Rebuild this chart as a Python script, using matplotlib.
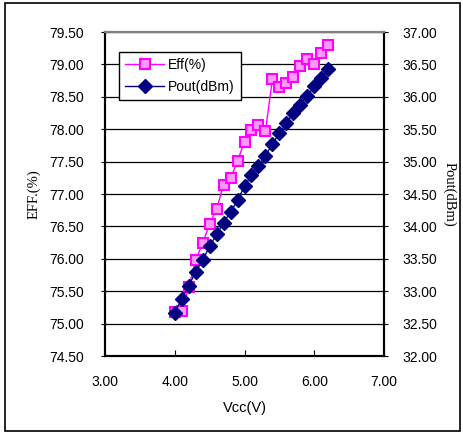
import matplotlib
matplotlib.use("Agg")
import matplotlib.pyplot as plt
from matplotlib.patches import Rectangle
from matplotlib.ticker import FormatStrFormatter, MultipleLocator

vcc = [4.0, 4.1, 4.2, 4.3, 4.4, 4.5, 4.6, 4.7, 4.8, 4.9, 5.0, 5.1,
       5.2, 5.3, 5.4, 5.5, 5.6, 5.7, 5.8, 5.9, 6.0, 6.1, 6.2]
eff = [75.18, 75.20, 75.56, 75.98, 76.24, 76.54, 76.77, 77.14, 77.24, 77.51,
       77.81, 77.99, 78.06, 77.97, 78.77, 78.65, 78.72, 78.80, 78.98, 79.08,
       79.01, 79.17, 79.30]
pout = [32.67, 32.88, 33.08, 33.30, 33.48, 33.69, 33.88, 34.06, 34.22, 34.40,
        34.62, 34.79, 34.93, 35.09, 35.27, 35.44, 35.60, 35.75, 35.88, 36.01,
        36.16, 36.29, 36.43]

W, H = 464, 433
fig = plt.figure(figsize=(W/100, H/100), dpi=100)
fig.patch.set_facecolor("white")
fig.patches.append(Rectangle((5/W, 2/H), 455/W, 428/H, transform=fig.transFigure,
                             fill=False, edgecolor="black", linewidth=1.2))

sans = "Liberation Sans"
serif = "Liberation Serif"

ax = fig.add_axes([105/W, 1-356/H, 279/W, 324/H])
ax2 = ax.twinx()

ax.set_xlim(3, 7)
ax.set_ylim(74.5, 79.5)
ax2.set_ylim(32, 37)
ax.xaxis.set_major_locator(MultipleLocator(1))
ax.yaxis.set_major_locator(MultipleLocator(0.5))
ax2.yaxis.set_major_locator(MultipleLocator(0.5))
ax.xaxis.set_major_formatter(FormatStrFormatter("%.2f"))
ax.yaxis.set_major_formatter(FormatStrFormatter("%.2f"))
ax2.yaxis.set_major_formatter(FormatStrFormatter("%.2f"))

ax.grid(axis="y", color="black", linewidth=0.9)
ax.set_axisbelow(True)

for a in (ax, ax2):
    for s in a.spines.values():
        s.set_linewidth(1.5)
    a.spines["top"].set_color("#808080")

ax.tick_params(axis="x", direction="in", length=4, pad=14, labelsize=10)
ax.tick_params(axis="y", direction="out", length=3, pad=12, labelsize=10)
ax2.tick_params(axis="y", direction="out", length=3, pad=10, labelsize=10)
for lab in ax.get_xticklabels() + ax.get_yticklabels() + ax2.get_yticklabels():
    lab.set_fontfamily(sans)

l1, = ax.plot(vcc, eff, color="#FF00FF", linewidth=1.0, marker="s", markersize=6.5,
              markerfacecolor="#FF99FF", markeredgecolor="#FF00FF", markeredgewidth=1.5,
              label="Eff(%)")
l2, = ax2.plot(vcc, pout, color="#000080", linewidth=1.0, marker="D", markersize=7.5,
               markerfacecolor="#000080", markeredgecolor="#000080", label="Pout(dBm)")

ax.set_xlabel("Vcc(V)", fontfamily=sans, fontsize=10.5, labelpad=8)
ax.set_ylabel("EFF.(%)", fontfamily=serif, fontsize=10.5, labelpad=6)
ax2.set_ylabel("Pout(dBm)", fontfamily=serif, fontsize=10.5, rotation=270, labelpad=14)

leg = ax2.legend(handles=[l1, l2], loc="upper left", bbox_to_anchor=(14/279, 1-20/324),
                 frameon=True, fancybox=False, edgecolor="black", framealpha=1,
                 prop={"family": sans, "size": 10}, handlelength=2.8,
                 borderpad=0.45, labelspacing=0.55, handletextpad=0.3, borderaxespad=0)
leg.get_frame().set_linewidth(1.0)

fig.savefig("out.png", dpi=100)
